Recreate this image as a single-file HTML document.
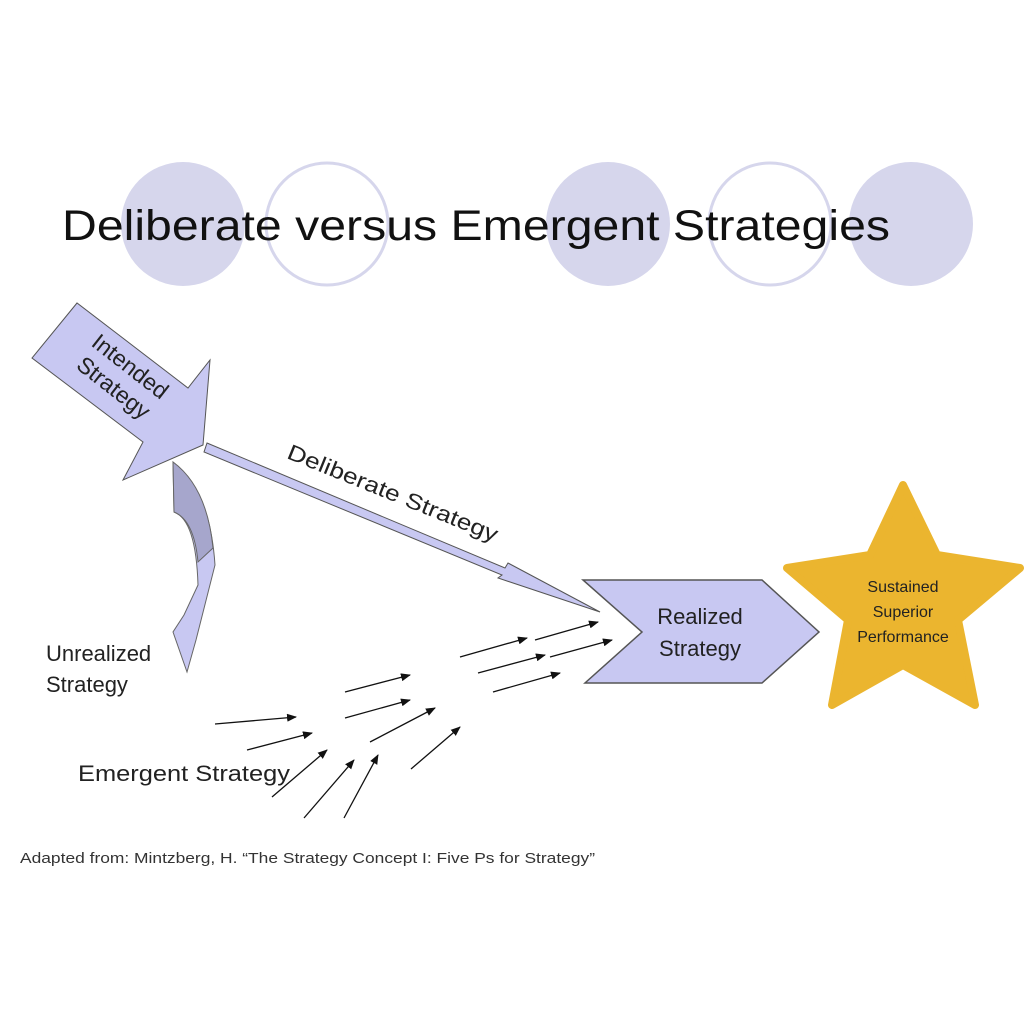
<!DOCTYPE html>
<html><head><meta charset="utf-8"><style>
html,body{margin:0;padding:0;background:#fff;}
svg{display:block}
text{font-family:"Liberation Sans",sans-serif;}
</style></head><body>
<svg width="1024" height="1024" viewBox="0 0 1024 1024" xmlns="http://www.w3.org/2000/svg">
<defs>
<marker id="ah" markerWidth="10" markerHeight="8" refX="9" refY="4" orient="auto" markerUnits="userSpaceOnUse">
<path d="M0,0 L10,4 L0,8 z" fill="#111"/></marker>
</defs>
<rect width="1024" height="1024" fill="#fff"/>
<circle cx="183" cy="224" r="62" fill="#d6d6ec"/>
<circle cx="327" cy="224" r="61" fill="#fff" stroke="#d6d6ec" stroke-width="3"/>
<circle cx="608" cy="224" r="62" fill="#d6d6ec"/>
<circle cx="770" cy="224" r="61" fill="#fff" stroke="#d6d6ec" stroke-width="3"/>
<circle cx="911" cy="224" r="62" fill="#d6d6ec"/>
<text x="62" y="240" font-size="43" fill="#111" textLength="828" lengthAdjust="spacingAndGlyphs">Deliberate versus Emergent Strategies</text>

<!-- intended arrow -->
<polygon points="77,303 32,358 143,442 123,480 203,445 210,360 188,388" fill="#c8c8f2" stroke="#555" stroke-width="1"/>
<text transform="translate(118,382) rotate(38)" font-size="23" fill="#222" text-anchor="middle"><tspan x="0" y="-12">Intended</tspan><tspan x="0" y="15">Strategy</tspan></text>

<!-- deliberate arrow -->
<polygon points="207,443 505,568 508,563 600,612 498,578 502,575 204,452" fill="#c8c8f2" stroke="#555" stroke-width="1"/>
<text transform="translate(390,500) rotate(22)" font-size="22" fill="#222" text-anchor="middle" textLength="225" lengthAdjust="spacingAndGlyphs">Deliberate Strategy</text>

<!-- curved unrealized arrow -->
<path d="M173,462 Q210,490 215,565 L196,640 L187,672 L173,632 L184,615 L198,585 Q196,520 174,512 Z" fill="#c8c8f2" stroke="#666" stroke-width="1"/>
<path d="M173,462 Q207,487 213,548 L198,562 Q194,520 174,512 Z" fill="#a6a6cc" stroke="#666" stroke-width="1"/>
<text x="46" y="661" font-size="22" fill="#222">Unrealized</text>
<text x="46" y="692" font-size="22" fill="#222">Strategy</text>

<!-- realized chevron -->
<polygon points="583,580 762,580 819,632 762,683 585,683 642,632" fill="#c8c8f2" stroke="#555" stroke-width="1.5"/>
<text x="700" y="624" font-size="22" fill="#222" text-anchor="middle">Realized</text>
<text x="700" y="656" font-size="22" fill="#222" text-anchor="middle">Strategy</text>

<!-- star -->
<polygon points="903,485 937,555 1020,568 958,620 975,705 903,665 832,705 848,620 787,568 870,555" fill="#ebb52f" stroke="#ebb52f" stroke-width="8" stroke-linejoin="round"/>
<text x="903" y="592" font-size="16" fill="#222" text-anchor="middle" font-family="DejaVu Sans,sans-serif">Sustained</text>
<text x="903" y="617" font-size="16" fill="#222" text-anchor="middle" font-family="DejaVu Sans,sans-serif">Superior</text>
<text x="903" y="642" font-size="16" fill="#222" text-anchor="middle" font-family="DejaVu Sans,sans-serif">Performance</text>

<g stroke="#111" stroke-width="1.3" marker-end="url(#ah)">
<line x1="460" y1="657" x2="527" y2="638"/>
<line x1="535" y1="640" x2="598" y2="622"/>
<line x1="478" y1="673" x2="545" y2="655"/>
<line x1="550" y1="657" x2="612" y2="640"/>
<line x1="345" y1="692" x2="410" y2="675"/>
<line x1="493" y1="692" x2="560" y2="673"/>
<line x1="345" y1="718" x2="410" y2="700"/>
<line x1="215" y1="724" x2="296" y2="717"/>
<line x1="247" y1="750" x2="312" y2="733"/>
<line x1="370" y1="742" x2="435" y2="708"/>
<line x1="272" y1="797" x2="327" y2="750"/>
<line x1="304" y1="818" x2="354" y2="760"/>
<line x1="344" y1="818" x2="378" y2="755"/>
<line x1="411" y1="769" x2="460" y2="727"/>
</g>
<text x="78" y="781" font-size="22" fill="#222" textLength="212" lengthAdjust="spacingAndGlyphs">Emergent Strategy</text>

<text x="20" y="863" font-size="15" fill="#333" textLength="575" lengthAdjust="spacingAndGlyphs">Adapted from:  Mintzberg, H.  “The Strategy Concept I:  Five Ps for Strategy”</text>
</svg>
</body></html>
